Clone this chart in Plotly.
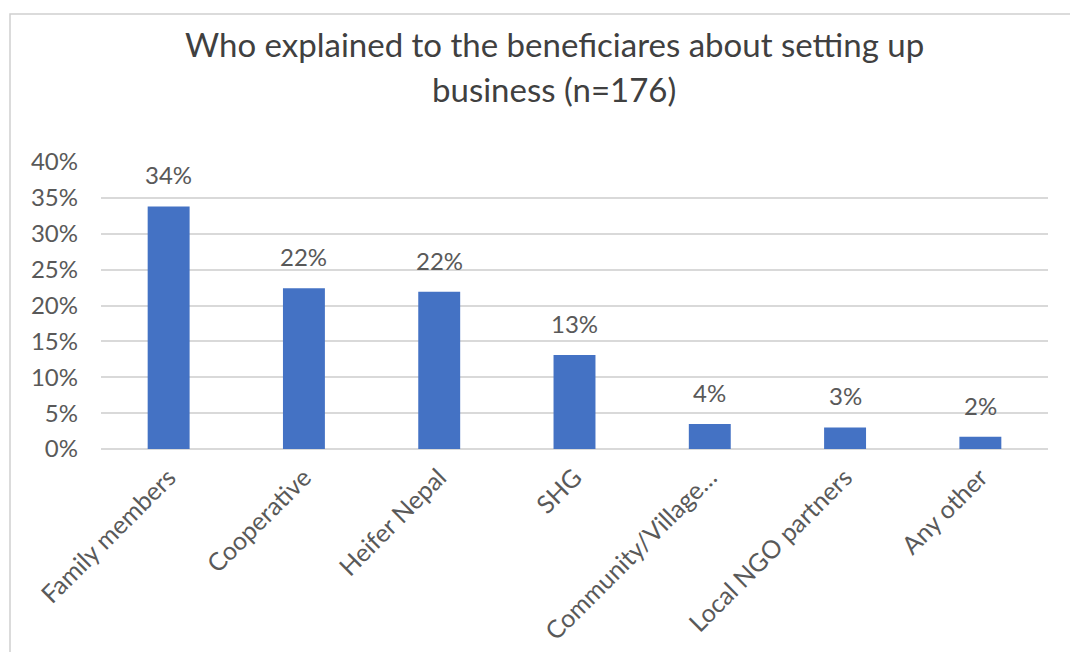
import plotly.graph_objects as go

# Survey responses: share of beneficiaries by who explained setting up a business
categories = ["Family members", "Cooperative", "Heifer Nepal", "SHG",
              "Community/Village…", "Local NGO partners", "Any other"]
shares = [0.338, 0.224, 0.219, 0.131, 0.035, 0.030, 0.017]
y_ticks = [0, 0.05, 0.10, 0.15, 0.20, 0.25, 0.30, 0.35, 0.40]
title_lines = ["Who explained to the beneficiares about setting up",
               "business (n=176)"]

FONT = "Lato"
TEXT_GREY = "#595959"
BAR_BLUE = "#4472C4"
GRID_GREY = "#d9d9d9"

W, H = 1070, 652
M_L, M_R, M_T, M_B = 101, 22, 162, 203

fig = go.Figure(
    go.Bar(
        x=categories,
        y=shares,
        marker=dict(color=BAR_BLUE, line=dict(width=0)),
        hoverinfo="x+y",
    )
)

# Value labels above each bar
for cat, val in zip(categories, shares):
    fig.add_annotation(
        x=cat, y=val, xref="x", yref="y",
        text=f"{val:.0%}", showarrow=False,
        yanchor="bottom", yshift=15,
        font=dict(family=FONT, size=24, color=TEXT_GREY),
    )

# Two-line chart title
title_y = [44, 89]
for line, ypx in zip(title_lines, title_y):
    fig.add_annotation(
        x=(554 - M_L) / (W - M_L - M_R), xref="paper",
        y=1 + (M_T - ypx) / (H - M_T - M_B), yref="paper",
        text=line, showarrow=False, xanchor="center", yanchor="middle",
        font=dict(family=FONT, size=33, color="#404040"),
    )

# Outer chart border
pw, ph = W - M_L - M_R, H - M_T - M_B
fig.add_shape(
    type="rect", xref="paper", yref="paper",
    x0=(10 - M_L) / pw, x1=(W + 20 - M_L) / pw,
    y0=-(H + 20 - M_T - ph) / ph, y1=1 + (M_T - 14) / ph,
    line=dict(color="#d0d0d0", width=1.5), fillcolor="rgba(0,0,0,0)",
    layer="below",
)

fig.update_layout(
    width=W, height=H,
    margin=dict(l=M_L, r=M_R, t=M_T, b=M_B, autoexpand=False),
    paper_bgcolor="white", plot_bgcolor="white",
    bargap=0.69,
    showlegend=False,
    font=dict(family=FONT, color=TEXT_GREY),
)
fig.update_xaxes(
    tickangle=-45,
    tickfont=dict(family=FONT, size=25, color=TEXT_GREY),
    showgrid=False, showline=False, ticks="",
    ticklabelstandoff=8,
    automargin=False,
)
fig.update_yaxes(
    range=[0, 0.4],
    tickvals=y_ticks,
    tickformat=".0%",
    tickfont=dict(family=FONT, size=24, color=TEXT_GREY),
    showgrid=True, gridcolor=GRID_GREY, gridwidth=1.5,
    zeroline=True, zerolinecolor=GRID_GREY, zerolinewidth=1.5,
    showline=False, ticks="",
    ticklabelstandoff=22,
    automargin=False,
)

fig.write_html("out.html")
